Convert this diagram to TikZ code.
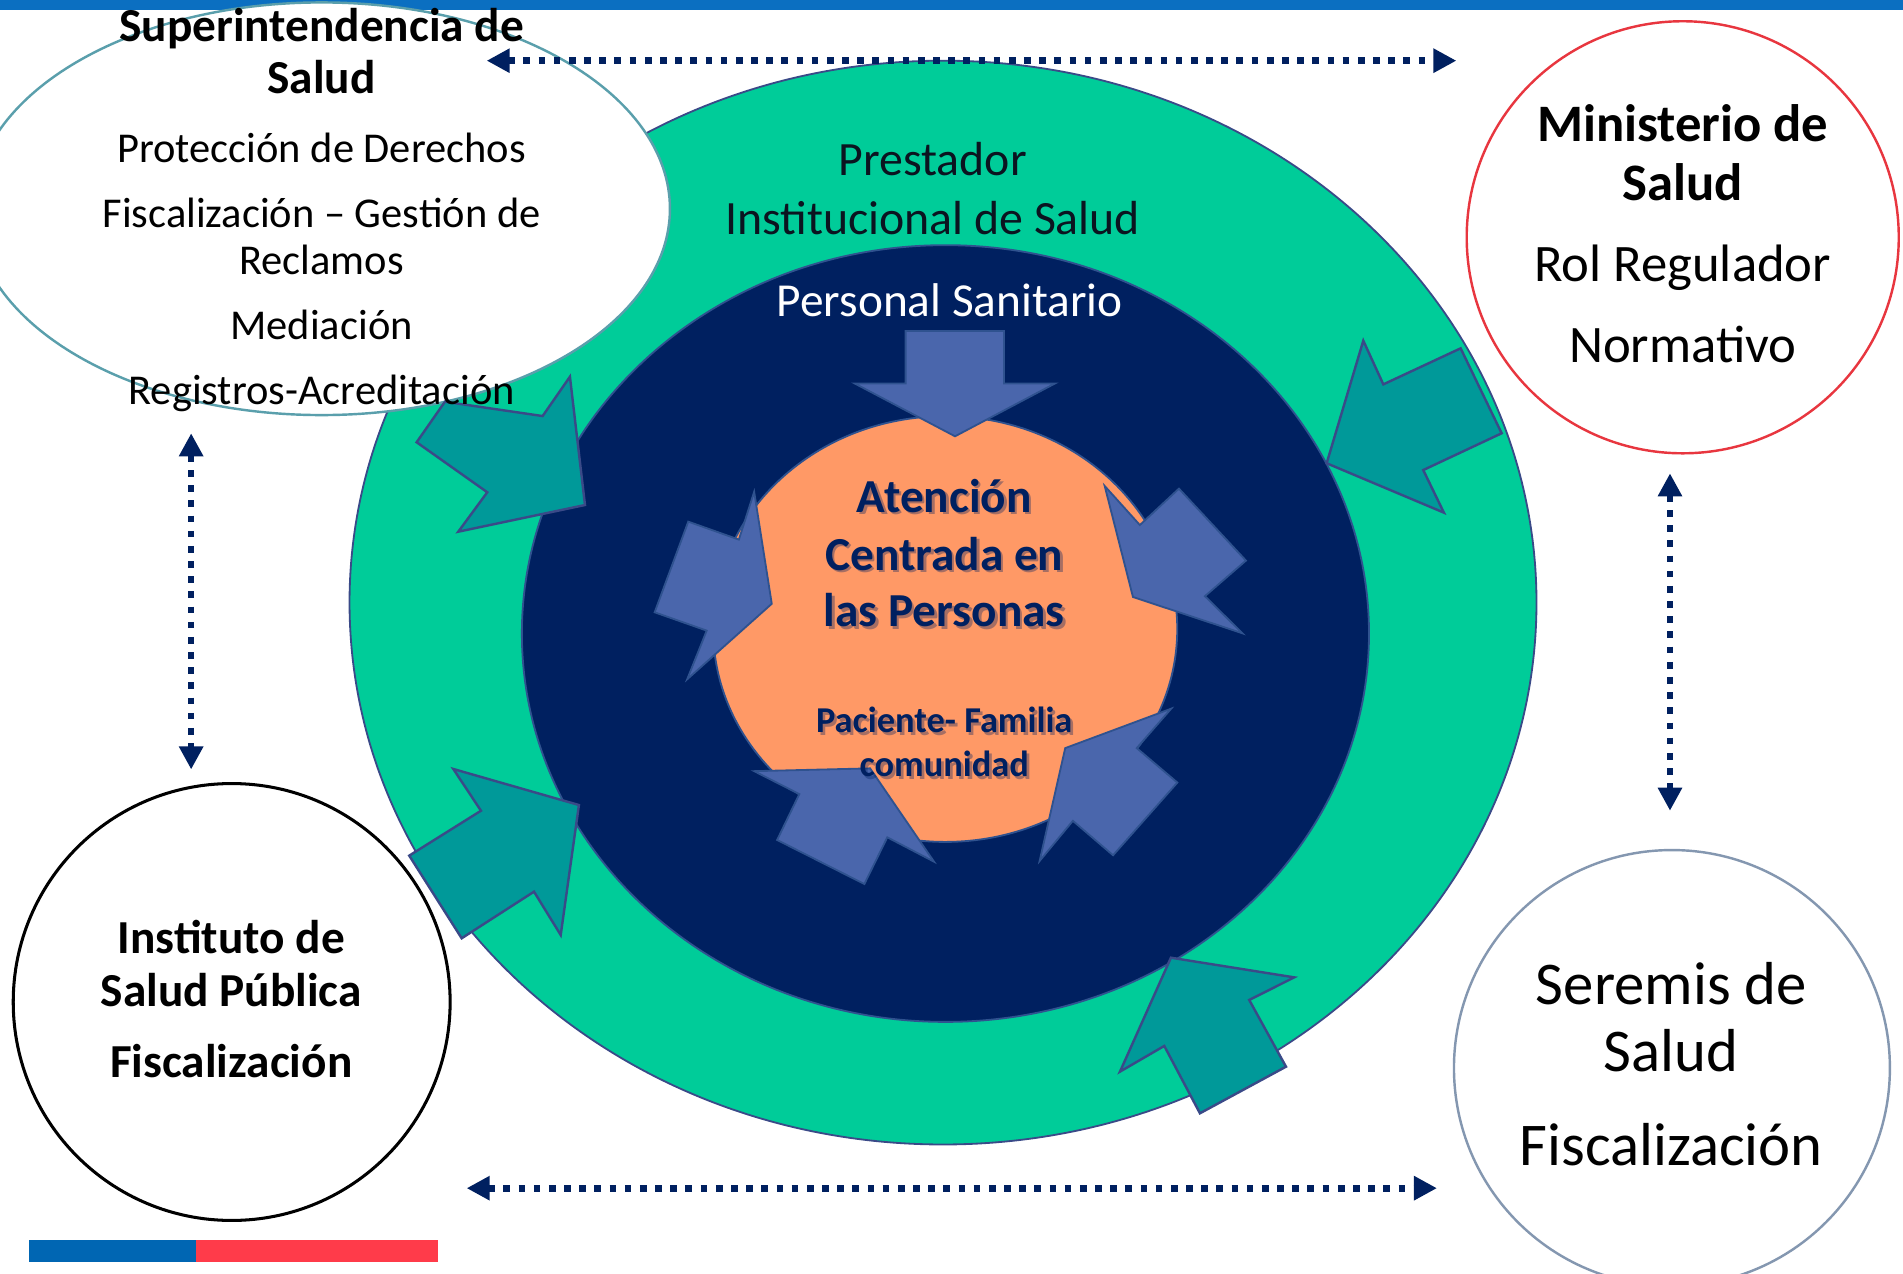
\documentclass[tikz,border=0pt]{standalone}
\usepackage{fontspec}
\setmainfont{Carlito}
\usetikzlibrary{arrows.meta}
\definecolor{topblue}{HTML}{0B6FC1}
\definecolor{ringgreen}{HTML}{00CC99}
\definecolor{navy}{HTML}{002060}
\definecolor{coreorange}{HTML}{FF9966}
\definecolor{tealA}{HTML}{009999}
\definecolor{blueA}{HTML}{4A66AC}
\definecolor{arrEdge}{HTML}{3A4A88}
\definecolor{blueEdge}{HTML}{2F528F}
\definecolor{superEdge}{HTML}{5A9FAC}
\definecolor{minRed}{HTML}{E8363F}
\definecolor{serGray}{HTML}{8497B0}
\definecolor{stripeBlue}{HTML}{0066B3}
\definecolor{stripeRed}{HTML}{FF3B4A}
\definecolor{presText}{HTML}{0B1420}
\newcommand\myfs[1]{\fontsize{#1}{#1}\selectfont}
\tikzset{
  lbl/.style={anchor=base, inner sep=0pt},
  tealarr/.style={fill=tealA, draw=arrEdge, line width=2pt, line join=miter},
  bluearr/.style={fill=blueA, draw=blueEdge, line width=1.5pt, line join=miter},
  dotarrow/.style={draw=navy, line width=5.5pt, dash pattern=on 5.5pt off 7pt,
    {Triangle[length=19pt,width=19pt]}-{Triangle[length=19pt,width=19pt]}},
  shadowtxt/.style={lbl, text=black, opacity=0.35},
}
\begin{document}
\begin{tikzpicture}[x=1pt,y=-1pt]
\useasboundingbox (0,0) rectangle (1568,1049.7);
\fill[white] (0,0) rectangle (1568,1049.7);

% top bar and bottom stripe
\fill[topblue] (0,0) rectangle (1568,8.2);
\fill[stripeBlue] (23.9,1021.7) rectangle (161.5,1039.5);
\fill[stripeRed] (161.5,1021.7) rectangle (360.6,1039.5);

% concentric rings
\draw[fill=ringgreen, draw=arrEdge, line width=1.5pt] (777,496.5) coordinate (ring) ellipse [x radius=489, y radius=446.5];
\draw[fill=navy, draw=blueEdge, line width=1.5pt] (779,522) coordinate (staff) ellipse [x radius=349, y radius=320];
\draw[fill=coreorange, draw=blueEdge, line width=1.5pt] (778.8,518.3) coordinate (core) ellipse [x radius=191.2, y radius=175.4];

% outer institutions
\draw[fill=white, draw=superEdge, line width=2pt] (265,172) coordinate (sis) ellipse [x radius=287, y radius=170];
\draw[fill=white, draw=minRed, line width=2pt] (1386.5,195.5) coordinate (minsal) circle [radius=178];
\draw[fill=white, draw=black, line width=2.5pt] (190.9,825.6) coordinate (isp) circle [radius=180];
\draw[fill=white, draw=serGray, line width=2pt] (1377.6,880) coordinate (seremi) circle [radius=179.6];

% teal arrows (outer ring)
\draw[tealarr] (469.6,310.4) -- (482,416.1) -- (377.6,438.1) -- (401.5,405.6) -- (343.3,364.4) -- (366.6,331) -- (447.1,342.8) -- cycle;
\draw[tealarr] (373.5,633.6) -- (477,663.3) -- (462,770.4) -- (440,734.7) -- (380.4,773.1) -- (337.2,705) -- (396.3,668) -- cycle;
\draw[tealarr] (1123.3,280.7) -- (1139.8,316.7) -- (1203.5,287) -- (1237.3,357) -- (1172.7,387.3) -- (1189.7,422.4) -- (1093.1,381.7) -- cycle;
\draw[tealarr] (964.8,789.1) -- (1066.4,805.3) -- (1029.3,823.9) -- (1059.6,878.9) -- (988.7,917.3) -- (959.3,861.8) -- (922.8,883) -- cycle;

% blue arrows (staff ring)
\draw[bluearr] (746.2,272.7) -- (827.2,272.7) -- (827.2,316) -- (869.2,316) -- (786.9,359.5) -- (704.3,316) -- (746.2,316) -- cycle;
\draw[bluearr] (621.4,405.2) -- (635.9,497.5) -- (566.2,559.7) -- (582.3,519.6) -- (539.4,504.5) -- (567.1,429.8) -- (608.8,444.6) -- cycle;
\draw[bluearr] (910.2,400.4) -- (939.2,432.6) -- (971.4,402.6) -- (1026.6,461.9) -- (992.8,491.2) -- (1023.7,521.8) -- (933.5,491.9) -- cycle;
\draw[bluearr] (965,583.9) -- (936.6,616.4) -- (970.1,644.8) -- (917.1,704.7) -- (884,676.3) -- (856.6,709.4) -- (877.7,616.4) -- cycle;
\draw[bluearr] (621.4,635.4) -- (716.9,633.1) -- (769.6,710) -- (731.1,689.9) -- (712.2,728.4) -- (640.3,692.1) -- (658.6,654.3) -- cycle;

% dotted double arrows
\coordinate (topL) at (401,50);
\coordinate (topR) at (1200,50);
\coordinate (botL) at (384.5,979);
\coordinate (botR) at (1184,979);
\coordinate (leftT) at (157.5,357);
\coordinate (leftB) at (157.5,634);
\coordinate (rightT) at (1376,390);
\coordinate (rightB) at (1376,668);
\draw[dotarrow] (topL) -- (topR);
\draw[dotarrow] (botL) -- (botR);
\draw[dotarrow] (leftT) -- (leftB);
\draw[dotarrow] (rightT) -- (rightB);

% Superintendencia texts
\node[lbl, font=\myfs{39}\bfseries] (sis1) at (265,34.3) {Superintendencia de};
\node[lbl, font=\myfs{39}\bfseries] (sis2) at (265,76.9) {Salud};
\node[lbl, font=\myfs{35}] (sis3) at (265,134) {Protección de Derechos};
\node[lbl, font=\myfs{35}] (sis4) at (265,187.6) {Fiscalización – Gestión de};
\node[lbl, font=\myfs{35}] (sis5) at (265,225.8) {Reclamos};
\node[lbl, font=\myfs{35}] (sis6) at (265,279.6) {Mediación};
\node[lbl, font=\myfs{35}] (sis7) at (265,332.9) {Registros-Acreditación};

% Ministerio texts
\node[lbl, font=\myfs{43.4}\bfseries] (min1) at (1386.5,116.7) {Ministerio de};
\node[lbl, font=\myfs{43.4}\bfseries] (min2) at (1386.5,164.8) {Salud};
\node[lbl, font=\myfs{43.4}] (min3) at (1386.5,232.1) {Rol Regulador};
\node[lbl, font=\myfs{43.4}] (min4) at (1386.5,298.8) {Normativo};

% ISP texts
\node[lbl, font=\myfs{39}\bfseries] (isp1) at (190.5,785.5) {Instituto de};
\node[lbl, font=\myfs{39}\bfseries] (isp2) at (190.5,828.9) {Salud Pública};
\node[lbl, font=\myfs{39}\bfseries] (isp3) at (190.5,887.7) {Fiscalización};

% Seremis texts
\node[lbl, font=\myfs{50}] (ser1) at (1377,827.5) {Seremis de};
\node[lbl, font=\myfs{50}] (ser2) at (1377,883) {Salud};
\node[lbl, font=\myfs{50}] (ser3) at (1377,960.7) {Fiscalización};

% ring texts
\node[lbl, font=\myfs{39.4}, text=presText] (pre1) at (768.5,145) {Prestador};
\node[lbl, font=\myfs{39.4}, text=presText] (pre2) at (768.5,193) {Institucional de Salud};
\node[lbl, font=\myfs{39}, text=white] (pers) at (782.5,261) {Personal Sanitario};

% core texts with shadow
\foreach \dx/\dy/\sty in {2.2/2.2/shadowtxt, 0/0/lbl}{
  \node[\sty, font=\myfs{39}\bfseries, text=navy] at (778+\dx,421.9+\dy) {Atención};
  \node[\sty, font=\myfs{39}\bfseries, text=navy] at (778+\dx,469.8+\dy) {Centrada en};
  \node[\sty, font=\myfs{39}\bfseries, text=navy] at (778+\dx,516.5+\dy) {las Personas};
  \node[\sty, font=\myfs{30}\bfseries, text=navy] at (778+\dx,603.8+\dy) {Paciente- Familia};
  \node[\sty, font=\myfs{30}\bfseries, text=navy] at (778+\dx,640.1+\dy) {comunidad};
}
\end{tikzpicture}
\end{document}
